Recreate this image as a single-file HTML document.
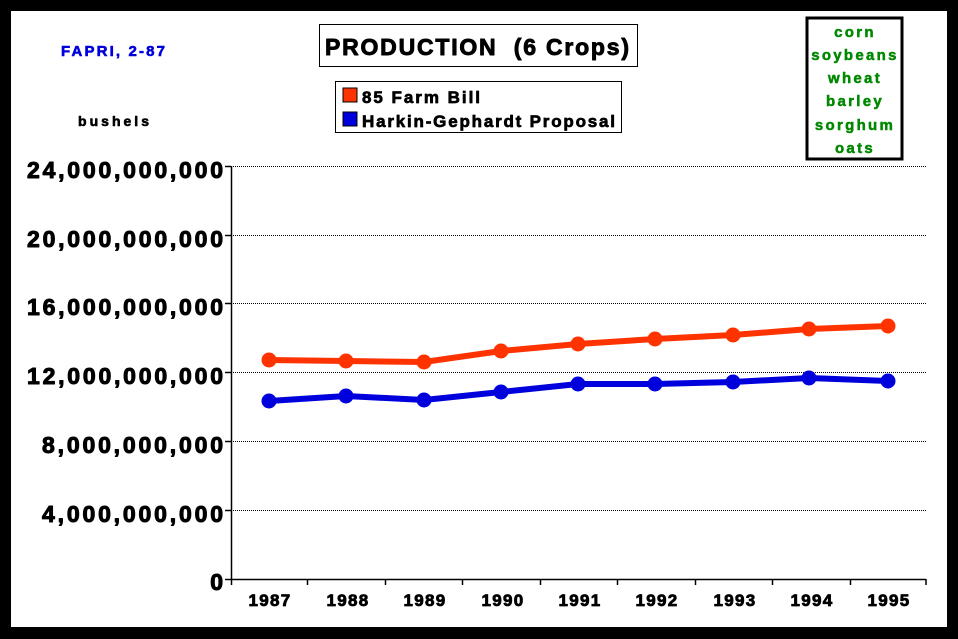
<!DOCTYPE html>
<html><head><style>
body{margin:0;background:#000;width:958px;height:639px;overflow:hidden}
svg{display:block}
text{font-family:"Liberation Sans",Arial,sans-serif;font-weight:bold;stroke-linejoin:round}
</style></head><body>
<svg width="958" height="639" xmlns="http://www.w3.org/2000/svg">
<rect x="0" y="0" width="958" height="639" fill="#000"/>
<rect x="11" y="11" width="936" height="616" fill="#fff"/>
<text x="61" y="56" font-size="15" fill="#0000dd" stroke="#0000dd" stroke-width="0.6" textLength="104" lengthAdjust="spacing">FAPRI, 2-87</text>
<text x="78" y="126" font-size="14" fill="#000" stroke="#000" stroke-width="0.6" textLength="71" lengthAdjust="spacing">bushels</text>
<rect x="319.5" y="24.5" width="318" height="42" fill="#fff" stroke="#000" stroke-width="1"/>
<text x="325" y="55" font-size="23" fill="#000" stroke="#000" stroke-width="0.9" textLength="304" lengthAdjust="spacing" xml:space="preserve">PRODUCTION  (6 Crops)</text>
<rect x="335.5" y="81.5" width="286" height="51" fill="#fff" stroke="#000" stroke-width="1"/>
<rect x="343" y="88" width="14" height="14" fill="#ff3300" stroke="#000" stroke-width="1"/>
<text x="362" y="103" font-size="17" fill="#000" stroke="#000" stroke-width="0.7" textLength="118" lengthAdjust="spacing">85 Farm Bill</text>
<rect x="343" y="112" width="14" height="14" fill="#0000dd" stroke="#000" stroke-width="1"/>
<text x="362" y="127" font-size="17" fill="#000" stroke="#000" stroke-width="0.7" textLength="253" lengthAdjust="spacing">Harkin-Gephardt Proposal</text>
<rect x="807" y="18" width="95" height="141" fill="#fff" stroke="#000" stroke-width="3"/>
<g font-size="15" fill="#008800" stroke="#008800" stroke-width="0.5" text-anchor="middle" letter-spacing="2.3">
<text x="855" y="37">corn</text><text x="855" y="60">soybeans</text><text x="855" y="83">wheat</text><text x="855" y="106">barley</text><text x="855" y="130">sorghum</text><text x="855" y="153">oats</text>
</g>
<g stroke="#000" stroke-width="1" stroke-dasharray="1,1">
<line x1="231" y1="166.5" x2="926" y2="166.5"/><line x1="231" y1="235.5" x2="926" y2="235.5"/><line x1="231" y1="303.5" x2="926" y2="303.5"/><line x1="231" y1="372.5" x2="926" y2="372.5"/><line x1="231" y1="441.5" x2="926" y2="441.5"/><line x1="231" y1="510.5" x2="926" y2="510.5"/>
</g>
<g stroke="#000" stroke-width="1.5">
<line x1="231.5" y1="166" x2="231.5" y2="585"/><line x1="225" y1="579.5" x2="926" y2="579.5"/>
<line x1="225" y1="166.5" x2="231" y2="166.5"/><line x1="225" y1="235.5" x2="231" y2="235.5"/><line x1="225" y1="303.5" x2="231" y2="303.5"/><line x1="225" y1="372.5" x2="231" y2="372.5"/><line x1="225" y1="441.5" x2="231" y2="441.5"/><line x1="225" y1="510.5" x2="231" y2="510.5"/>
<line x1="307.5" y1="579" x2="307.5" y2="585"/><line x1="385.5" y1="579" x2="385.5" y2="585"/><line x1="462.5" y1="579" x2="462.5" y2="585"/><line x1="540.5" y1="579" x2="540.5" y2="585"/><line x1="617.5" y1="579" x2="617.5" y2="585"/><line x1="695.5" y1="579" x2="695.5" y2="585"/><line x1="772.5" y1="579" x2="772.5" y2="585"/><line x1="850.5" y1="579" x2="850.5" y2="585"/><line x1="926" y1="579" x2="926" y2="585"/>
</g>
<g font-size="23" fill="#000" stroke="#000" stroke-width="1">
<text x="27" y="178" textLength="196" lengthAdjust="spacing">24,000,000,000</text>
<text x="27" y="247" textLength="196" lengthAdjust="spacing">20,000,000,000</text>
<text x="27" y="315" textLength="196" lengthAdjust="spacing">16,000,000,000</text>
<text x="27" y="384" textLength="196" lengthAdjust="spacing">12,000,000,000</text>
<text x="42" y="453" textLength="181" lengthAdjust="spacing">8,000,000,000</text>
<text x="42" y="522" textLength="181" lengthAdjust="spacing">4,000,000,000</text>
<text x="223" y="590" text-anchor="end">0</text>
</g>
<g font-size="17" fill="#000" stroke="#000" stroke-width="0.8" text-anchor="middle" letter-spacing="1.3">
<text x="270" y="606">1987</text><text x="348" y="606">1988</text><text x="425" y="606">1989</text><text x="503" y="606">1990</text><text x="580" y="606">1991</text><text x="657" y="606">1992</text><text x="735" y="606">1993</text><text x="812" y="606">1994</text><text x="889" y="606">1995</text>
</g>
<polyline fill="none" stroke="#ff3300" stroke-width="6" points="269,360 346,361 424,362 501,351 578,344 655,339 733,335 809,329 888,326"/>
<g fill="#ff3300"><circle cx="269" cy="360" r="7.5"/><circle cx="346" cy="361" r="7.5"/><circle cx="424" cy="362" r="7.5"/><circle cx="501" cy="351" r="7.5"/><circle cx="578" cy="344" r="7.5"/><circle cx="655" cy="339" r="7.5"/><circle cx="733" cy="335" r="7.5"/><circle cx="809" cy="329" r="7.5"/><circle cx="888" cy="326" r="7.5"/></g>
<polyline fill="none" stroke="#0000dd" stroke-width="6" points="269,401 346,396 424,400 501,392 578,384 655,384 733,382 809,378 888,381"/>
<g fill="#0000dd"><circle cx="269" cy="401" r="7.5"/><circle cx="346" cy="396" r="7.5"/><circle cx="424" cy="400" r="7.5"/><circle cx="501" cy="392" r="7.5"/><circle cx="578" cy="384" r="7.5"/><circle cx="655" cy="384" r="7.5"/><circle cx="733" cy="382" r="7.5"/><circle cx="809" cy="378" r="7.5"/><circle cx="888" cy="381" r="7.5"/></g>
</svg>
</body></html>
